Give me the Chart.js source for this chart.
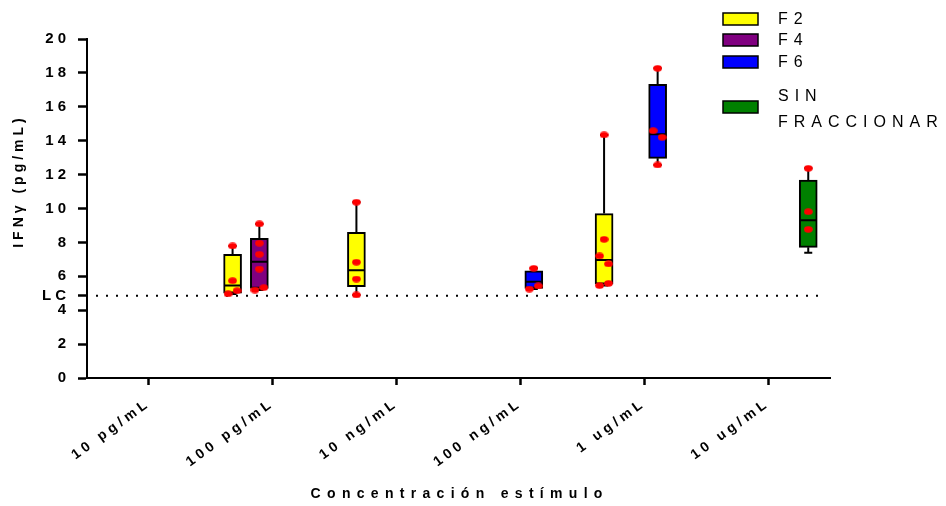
<!DOCTYPE html>
<html>
<head>
<meta charset="utf-8">
<script src="https://cdn.jsdelivr.net/npm/chart.js@4.4.1/dist/chart.umd.min.js"></script>
<style>
  html, body { margin: 0; padding: 0; background: #fff; }
  #wrap { width: 946px; height: 506px; }
</style>
</head>
<body>
<div id="wrap"><canvas id="chart" width="946" height="506"></canvas></div>
<script>
// ---- data ----
const categories = ['10 pg/mL', '100 pg/mL', '10 ng/mL', '100 ng/mL', '1 ug/mL', '10 ug/mL'];
const seriesNames = ['F2', 'F4', 'F6', 'SIN FRACCIONAR'];
const seriesColors = ['#ffff00', '#800080', '#0000ff', '#008000'];

// box stats per category: [min, q1, median, q3, max]
const f2Box  = [null, [4.96, 5.0, 5.45, 7.3, 7.79], [4.9, 5.39, 6.35, 8.6, 10.37], null, [5.45, 5.53, 6.96, 9.7, 14.34], null];
const f4Box  = [null, [5.19, 5.29, 6.86, 8.24, 9.09], null, null, null, null];
const f6Box  = [null, null, null, [5.25, 5.29, 5.68, 6.33, 6.47], [12.57, 12.96, 14.38, 17.33, 18.27], null];
const sinBox = [null, null, null, null, null, [7.39, 7.71, 9.3, 11.68, 12.37]];

// individual replicates per category
const f2Dots  = [[], [7.79, 5.74, 4.96, 5.15], [10.37, 6.83, 5.84, 4.9], [], [14.34, 8.18, 7.2, 6.73, 5.45, 5.58], []];
const f4Dots  = [[], [9.09, 7.95, 7.3, 6.43, 5.19, 5.33], [], [], [], []];
const f6Dots  = [[], [], [], [6.47, 5.25, 5.43], [18.27, 14.59, 14.2, 12.57], []];
const sinDots = [[], [], [], [], [], [12.37, 9.81, 8.77]];

const yTicks = [0, 2, 4, 6, 8, 10, 12, 14, 16, 18, 20];
const lcValue = 4.85;

const boxes = [f2Box, f4Box, f6Box, sinBox];
const dots = [f2Dots, f4Dots, f6Dots, sinDots];

const catPct = 0.865;   // share of a category used by the 4 groups
const jitter = 0.036;
const FONT = 'Liberation Sans, Arial, sans-serif';

const slotOf = (s) => (s - 1.5) * catPct / 4;

// red dot (slightly wide ellipse like the original)
const dotImg = document.createElement('canvas');
dotImg.width = 9; dotImg.height = 7;
(function () {
  const g = dotImg.getContext('2d');
  g.fillStyle = '#ff0000';
  g.beginPath();
  g.ellipse(4.5, 3.5, 4.3, 3.3, 0, 0, Math.PI * 2);
  g.fill();
})();

// spread replicates that sit close together (first left, next right)
function dotPoints(list, s) {
  const pts = [];
  list.forEach((vals, ci) => {
    const side = vals.map(() => 0);
    for (let i = 0; i < vals.length - 1; i++) {
      if (side[i] === 0 && Math.abs(vals[i] - vals[i + 1]) < 0.5) {
        side[i] = -1; side[i + 1] = 1; i++;
      }
    }
    vals.forEach((v, k) => pts.push({ x: ci + slotOf(s) + side[k] * jitter, y: v }));
  });
  return pts;
}

function boxPoints(list, s) {
  const pts = [];
  list.forEach((b, ci) => {
    if (b) pts.push({ x: ci + slotOf(s), y: [b[1], b[3]], stats: b });
  });
  return pts;
}

const barSets = seriesNames.map((name, s) => ({
  type: 'bar',
  label: name,
  data: boxPoints(boxes[s], s),
  backgroundColor: seriesColors[s],
  borderColor: '#000',
  borderWidth: 2,
  borderSkipped: false,
  barThickness: 18,
  grouped: false,
  xAxisID: 'xd',
  order: 1
}));

const dotSets = seriesNames.map((name, s) => ({
  type: 'scatter',
  label: name + ' pts',
  data: dotPoints(dots[s], s),
  pointStyle: dotImg,
  pointRadius: 4,
  xAxisID: 'xd',
  order: 0
}));

function spacedText(ctx, text, x, y, spacing, align) {
  ctx.letterSpacing = spacing + 'px';
  const w = ctx.measureText(text).width - spacing;
  let sx = x;
  if (align === 'center') sx = x - w / 2;
  ctx.textAlign = 'left';
  ctx.fillText(text, sx, y);
}

const letterPlugin = {
  id: 'letters',
  beforeUpdate(chart) { chart.ctx.letterSpacing = '4px'; },
  beforeDraw(chart) { chart.ctx.letterSpacing = '4px'; }
};

const lcPlugin = {
  id: 'lcLine',
  beforeDatasetsDraw(chart) {
    const { ctx, chartArea } = chart;
    const y = chart.scales.y.getPixelForValue(lcValue);
    ctx.save();
    ctx.strokeStyle = '#000';
    ctx.lineWidth = 2;
    ctx.setLineDash([2, 8]);
    ctx.beginPath();
    ctx.moveTo(chartArea.left + 9, y);
    ctx.lineTo(chartArea.right - 4, y);
    ctx.stroke();
    ctx.restore();
  }
};

const boxPlugin = {
  id: 'boxParts',
  afterDatasetDraw(chart, args) {
    const s = args.index;
    if (s >= boxes.length) return;
    const { ctx } = chart;
    const ys = chart.scales.y;
    const meta = chart.getDatasetMeta(s);
    const raw = chart.data.datasets[s].data;
    ctx.save();
    ctx.strokeStyle = '#000';
    ctx.lineWidth = 2;
    raw.forEach((p, i) => {
      const el = meta.data[i];
      const x = el.x, half = el.width / 2;
      const [mn, q1, md, q3, mx] = p.stats.map(v => ys.getPixelForValue(v));
      ctx.beginPath();
      ctx.moveTo(x - half + 1, md); ctx.lineTo(x + half - 1, md);
      ctx.moveTo(x, q3); ctx.lineTo(x, mx);
      ctx.moveTo(x, q1); ctx.lineTo(x, mn);
      ctx.moveTo(x - 4, mx); ctx.lineTo(x + 4, mx);
      ctx.moveTo(x - 4, mn); ctx.lineTo(x + 4, mn);
      ctx.stroke();
    });
    ctx.restore();
  }
};

const textPlugin = {
  id: 'texts',
  afterDraw(chart) {
    const { ctx, chartArea } = chart;
    ctx.save();
    ctx.fillStyle = '#000';
    ctx.textBaseline = 'middle';
    // x title
    ctx.font = 'bold 14px ' + FONT;
    spacedText(ctx, 'Concentración estímulo', (chartArea.left + chartArea.right) / 2 - 2, 494, 6.3, 'center');
    // y title
    ctx.save();
    ctx.translate(19, 183);
    ctx.rotate(-Math.PI / 2);
    ctx.font = 'bold 14px ' + FONT;
    spacedText(ctx, 'IFNγ (pg/mL)', 0, 0, 4, 'center');
    ctx.restore();
    // legend
    const rows = [19, 40, 62, 107];
    ctx.font = '16px ' + FONT;
    seriesNames.forEach((name, s) => {
      const cy = rows[s];
      ctx.fillStyle = seriesColors[s];
      ctx.fillRect(723, cy - 6, 35, 12);
      ctx.strokeStyle = '#000';
      ctx.lineWidth = 1.5;
      ctx.strokeRect(723, cy - 6, 35, 12);
      ctx.fillStyle = '#000';
      if (s === 3) {
        spacedText(ctx, 'SIN', 778, 97, 6, 'left');
        spacedText(ctx, 'FRACCIONAR', 778, 123, 6, 'left');
      } else {
        spacedText(ctx, name, 778, cy + 1, 6, 'left');
      }
    });
    ctx.restore();
  }
};

new Chart(document.getElementById('chart'), {
  type: 'bar',
  data: { labels: categories, datasets: [...barSets, ...dotSets] },
  options: {
    responsive: false,
    animation: false,
    devicePixelRatio: 1,
    layout: { padding: { top: 39, right: 116, left: 0, bottom: 0 } },
    plugins: { legend: { display: false }, tooltip: { enabled: false } },
    scales: {
      x: {
        type: 'category',
        offset: true,
        grid: { display: true, drawOnChartArea: false, offset: false, tickLength: 7, tickColor: '#000', tickWidth: 2.5 },
        border: { display: true, color: '#000', width: 2 },
        ticks: { color: '#000', font: { family: FONT, size: 14, weight: 'bold' }, minRotation: 36, maxRotation: 36, padding: 10, autoSkip: false },
        afterFit(scale) { scale.height = 128; }
      },
      xd: {
        type: 'linear', axis: 'x', display: false, offset: false,
        grid: { offset: false }, min: -0.5, max: 5.5
      },
      y: {
        min: 0,
        max: 20,
        grid: { display: true, drawOnChartArea: false, tickLength: 9, tickColor: '#000', tickWidth: 2.5 },
        border: { display: true, color: '#000', width: 2 },
        ticks: {
          color: '#000',
          font: { family: FONT, size: 15, weight: 'bold' },
          padding: 8,
          autoSkip: false,
          callback: (v) => v === lcValue ? 'LC' : v
        },
        afterBuildTicks(scale) {
          scale.ticks = yTicks.concat([lcValue]).sort((a, b) => a - b).map(v => ({ value: v }));
        },
        afterFit(scale) { scale.width = 87; }
      }
    }
  },
  plugins: [letterPlugin, lcPlugin, boxPlugin, textPlugin]
});
</script>
</body>
</html>
